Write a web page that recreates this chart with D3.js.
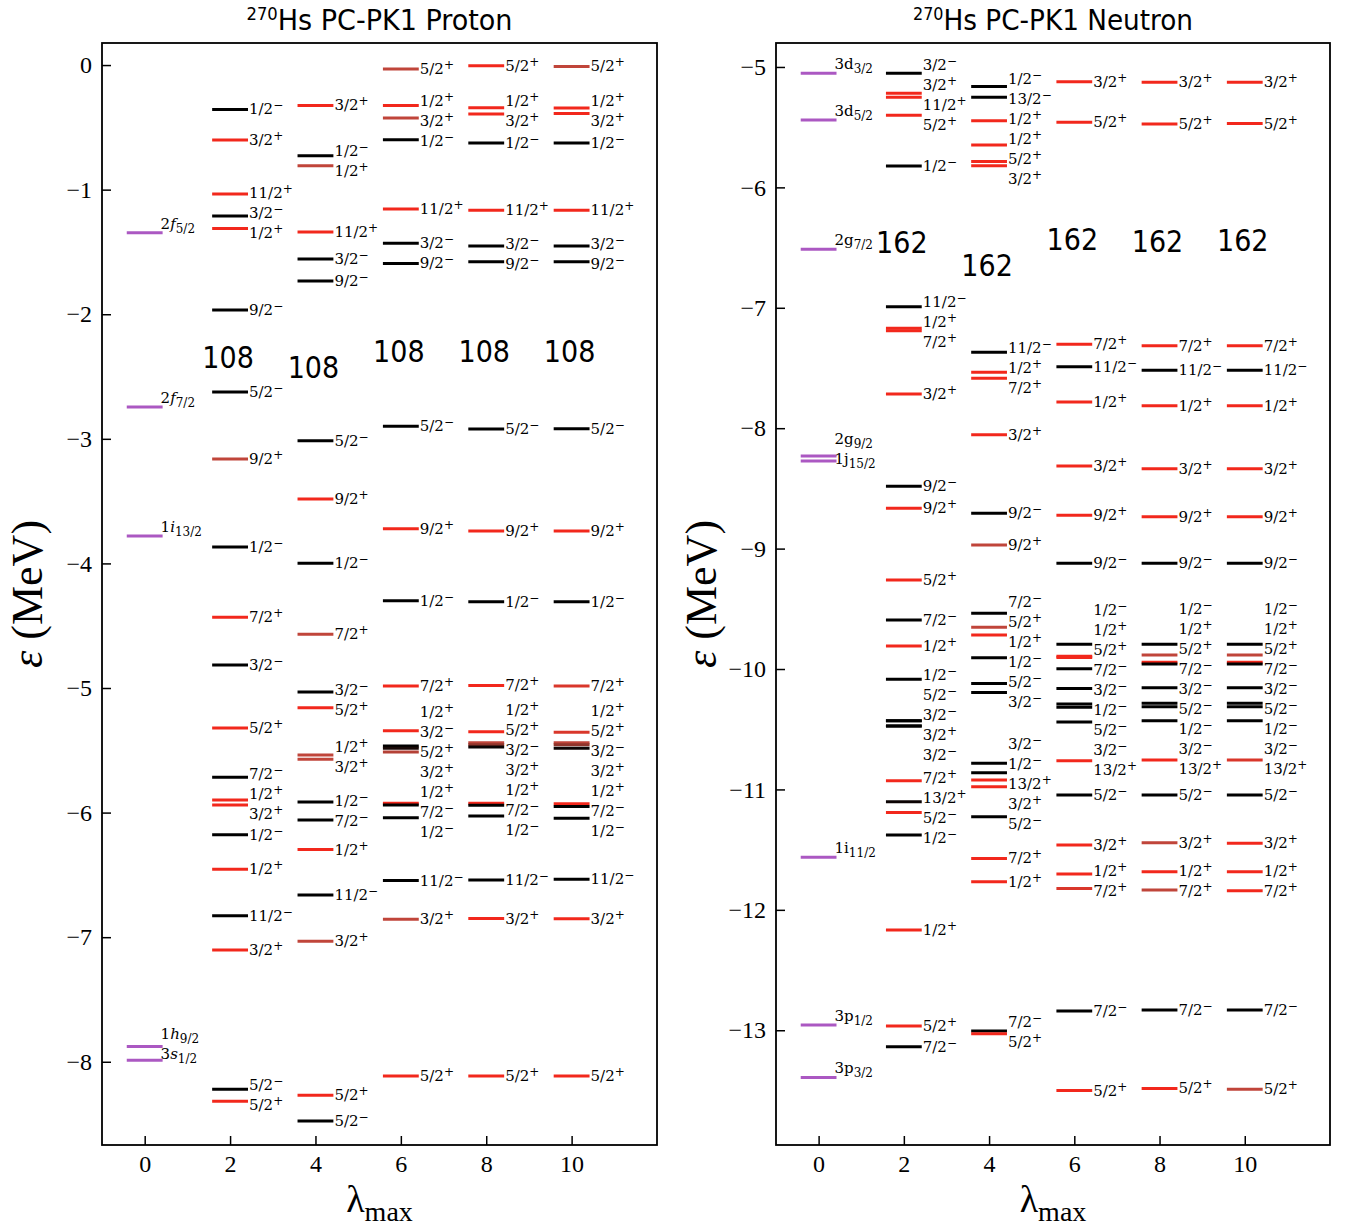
<!doctype html>
<html>
<head>
<meta charset="utf-8">
<title>270Hs PC-PK1 levels</title>
<script src="https://cdn.jsdelivr.net/npm/d3@7"></script>
<style>
  body { margin: 0; background: #fff; }
</style>
</head>
<body>
<script>

    // lambda_max columns
    var lambdaMax = [2, 4, 6, 8, 10];

    // spherical levels (lambda_max = 0): [energy, shell, j]
    var protonShells = [[-1.346, "2f", "5/2"], [-2.745, "2f", "7/2"], [-3.780, "1i", "13/2"], [-7.878, "1h", "9/2"], [-7.988, "3s", "1/2"]];
    var neutronShells = [[-5.053, "3d", "3/2"], [-5.440, "3d", "5/2"], [-6.514, "2g", "7/2"], [-8.231, "2g", "9/2"], [-8.272, "1j", "15/2"], [-11.564, "1i", "11/2"], [-12.957, "3p", "1/2"], [-13.392, "3p", "3/2"]];

    // deformed levels: [energy, K^pi, parity expectation]
    var proton2 = [[-0.356, "1/2-", -1], [-0.602, "3/2+", 1], [-1.035, "11/2+", 1], [-1.212, "3/2-", -1], [-1.311, "1/2+", 1], [-1.966, "9/2-", -1], [-2.624, "5/2-", -1], [-3.162, "9/2+", 0.6], [-3.868, "1/2-", -1], [-4.433, "7/2+", 1], [-4.815, "3/2-", -1], [-5.321, "5/2+", 1], [-5.717, "7/2-", -1], [-5.899, "1/2+", 1], [-5.939, "3/2+", 1], [-6.177, "1/2-", -1], [-6.455, "1/2+", 1], [-6.827, "11/2-", -1], [-7.103, "3/2+", 1], [-8.221, "5/2-", -1], [-8.317, "5/2+", 1]];
    var proton4 = [[-0.324, "3/2+", 1], [-0.728, "1/2-", -1], [-0.808, "1/2+", 0.6], [-1.340, "11/2+", 1], [-1.557, "3/2-", -1], [-1.734, "9/2-", -1], [-3.015, "5/2-", -1], [-3.483, "9/2+", 1], [-3.999, "1/2-", -1], [-4.569, "7/2+", 0.6], [-5.032, "3/2-", -1], [-5.158, "5/2+", 1], [-5.538, "1/2+", 0.6], [-5.572, "3/2+", 0.6], [-5.915, "1/2-", -1], [-6.059, "7/2-", -1], [-6.297, "1/2+", 1], [-6.661, "11/2-", -1], [-7.033, "3/2+", 0.6], [-8.269, "5/2+", 1], [-8.475, "5/2-", -1]];
    var proton6 = [[-0.032, "5/2+", 0.6], [-0.324, "1/2+", 1], [-0.425, "3/2+", 0.6], [-0.599, "1/2-", -1], [-1.156, "11/2+", 1], [-1.431, "3/2-", -1], [-1.592, "9/2-", -1], [-2.900, "5/2-", -1], [-3.721, "9/2+", 1], [-4.299, "1/2-", -1], [-4.984, "7/2+", 1], [-5.343, "1/2+", 1], [-5.466, "3/2-", -1], [-5.484, "5/2+", -0.8], [-5.514, "3/2+", 0.5], [-5.925, "1/2+", 1], [-5.939, "7/2-", -1], [-6.041, "1/2-", -1], [-6.546, "11/2-", -1], [-6.857, "3/2+", 0.6], [-8.114, "5/2+", 1]];
    var proton8 = [[-0.005, "5/2+", 1], [-0.342, "1/2+", 1], [-0.393, "3/2+", 1], [-0.626, "1/2-", -1], [-1.166, "11/2+", 1], [-1.453, "3/2-", -1], [-1.578, "9/2-", -1], [-2.921, "5/2-", -1], [-3.740, "9/2+", 1], [-4.307, "1/2-", -1], [-4.979, "7/2+", 1], [-5.351, "1/2+", 1], [-5.440, "5/2+", 0.6], [-5.455, "3/2-", 0.2], [-5.474, "3/2+", -0.9], [-5.925, "1/2+", 1], [-5.942, "7/2-", -1], [-6.027, "1/2-", -1], [-6.541, "11/2-", -1], [-6.851, "3/2+", 1], [-8.114, "5/2+", 1]];
    var proton10 = [[-0.011, "5/2+", 0.6], [-0.345, "1/2+", 1], [-0.388, "3/2+", 1], [-0.626, "1/2-", -1], [-1.166, "11/2+", 1], [-1.453, "3/2-", -1], [-1.578, "9/2-", -1], [-2.920, "5/2-", -1], [-3.740, "9/2+", 1], [-4.307, "1/2-", -1], [-4.984, "7/2+", 0.8], [-5.356, "1/2+", 0.8], [-5.440, "5/2+", 0.6], [-5.455, "3/2-", 0.2], [-5.484, "3/2+", -0.9], [-5.930, "1/2+", 1], [-5.952, "7/2-", -1], [-6.045, "1/2-", -1], [-6.535, "11/2-", -1], [-6.853, "3/2+", 1], [-8.114, "5/2+", 1]];

    var neutron2 = [[-5.053, "3/2-", -1], [-5.219, "3/2+", 1], [-5.252, "11/2+", 1], [-5.401, "5/2+", 1], [-5.822, "1/2-", -1], [-6.991, "11/2-", -1], [-7.170, "1/2+", 1], [-7.190, "7/2+", 1], [-7.716, "3/2+", 1], [-8.483, "9/2-", -1], [-8.665, "9/2+", 1], [-9.261, "5/2+", 1], [-9.593, "7/2-", -1], [-9.809, "1/2+", 1], [-10.086, "1/2-", -1], [-10.429, "5/2-", -1], [-10.429, "3/2-", -1], [-10.473, "3/2+", -1], [-10.473, "3/2-", -1], [-10.928, "7/2+", 1], [-11.102, "13/2+", -0.9], [-11.192, "5/2-", 1], [-11.379, "1/2-", -1], [-12.168, "1/2+", 1], [-12.965, "5/2+", 1], [-13.137, "7/2-", -1]];
    var neutron4 = [[-5.163, "1/2-", -1], [-5.252, "13/2-", -1], [-5.446, "1/2+", 1], [-5.648, "1/2+", 1], [-5.786, "5/2+", 1], [-5.820, "3/2+", 1], [-7.370, "11/2-", -1], [-7.536, "1/2+", 1], [-7.586, "7/2+", 1], [-8.054, "3/2+", 1], [-8.707, "9/2-", -1], [-8.970, "9/2+", 0.6], [-9.537, "7/2-", -1], [-9.654, "5/2+", 0.6], [-9.718, "1/2+", 1], [-9.906, "1/2-", -1], [-10.120, "5/2-", -1], [-10.194, "3/2-", -1], [-10.783, "3/2-", -1], [-10.861, "1/2-", -1], [-10.922, "13/2+", 1], [-10.978, "3/2+", 1], [-11.227, "5/2-", -1], [-11.573, "7/2+", 1], [-11.767, "1/2+", 1], [-13.007, "7/2-", -1], [-13.029, "5/2+", 1]];
    var neutron6 = [[-5.122, "3/2+", 1], [-5.460, "5/2+", 1], [-7.303, "7/2+", 1], [-7.489, "11/2-", -1], [-7.782, "1/2+", 1], [-8.314, "3/2+", 1], [-8.724, "9/2+", 1], [-9.122, "9/2-", -1], [-9.795, "1/2-", -1], [-9.893, "1/2+", 1], [-9.905, "5/2+", 1], [-9.998, "7/2-", -1], [-10.161, "3/2-", -1], [-10.291, "1/2-", -1], [-10.318, "5/2-", -1], [-10.440, "3/2-", -1], [-10.761, "13/2+", 1], [-11.047, "5/2-", -1], [-11.462, "3/2+", 1], [-11.703, "1/2+", 1], [-11.822, "7/2+", 0.8], [-12.841, "7/2-", -1], [-13.501, "5/2+", 1]];
    var neutron8 = [[-5.127, "3/2+", 1], [-5.473, "5/2+", 1], [-7.315, "7/2+", 1], [-7.519, "11/2-", -1], [-7.813, "1/2+", 1], [-8.336, "3/2+", 1], [-8.735, "9/2+", 1], [-9.122, "9/2-", -1], [-9.795, "1/2-", -1], [-9.884, "1/2+", 0.6], [-9.944, "5/2+", 1], [-9.958, "7/2-", -1], [-10.155, "3/2-", -1], [-10.285, "5/2-", -1], [-10.313, "1/2-", -1], [-10.429, "3/2-", -1], [-10.756, "13/2+", 1], [-11.047, "5/2-", -1], [-11.443, "3/2+", 0.6], [-11.684, "1/2+", 1], [-11.836, "7/2+", 0.6], [-12.832, "7/2-", -1], [-13.483, "5/2+", 1]];
    var neutron10 = [[-5.127, "3/2+", 1], [-5.470, "5/2+", 1], [-7.315, "7/2+", 1], [-7.519, "11/2-", -1], [-7.813, "1/2+", 1], [-8.336, "3/2+", 1], [-8.735, "9/2+", 1], [-9.122, "9/2-", -1], [-9.795, "1/2-", -1], [-9.884, "1/2+", 0.6], [-9.944, "5/2+", 1], [-9.958, "7/2-", -1], [-10.155, "3/2-", -1], [-10.285, "5/2-", -1], [-10.313, "1/2-", -1], [-10.429, "3/2-", -1], [-10.756, "13/2+", 0.8], [-11.047, "5/2-", -1], [-11.448, "3/2+", 1], [-11.684, "1/2+", 1], [-11.841, "7/2+", 1], [-12.832, "7/2-", -1], [-13.490, "5/2+", 0.6]];

    var protonTicks = [0, -1, -2, -3, -4, -5, -6, -7, -8];
    var neutronTicks = [-5, -6, -7, -8, -9, -10, -11, -12, -13];
    var xTicks = [0, 2, 4, 6, 8, 10];

    var svg = d3.select("body").append("svg")
        .attr("width", 1356)
        .attr("height", 1228)
        .style("background", "#fff");

    var parityColor = d3.scaleLinear()
        .domain([-1, 0.6, 1])
        .range(["#000000", "#c0453a", "#f2281c"]);
    var shellColor = "#ab58c2";
    var half = 0.42;
    var labelGap = 20;
    var serif = "'Liberation Serif', 'DejaVu Serif', serif";
    var labelFont = "'DejaVu Serif', serif";
    var sans = "'DejaVu Sans Condensed', 'DejaVu Sans', sans-serif";

    function minusSign(s) { return s.replace("-", "\u2212"); }

    // push overlapping labels apart, keeping groups centred on their levels
    function spread(items, gap) {
        items.sort(function(a, b) { return a.want - b.want; });
        var cl = [];
        items.forEach(function(it) {
            cl.push({list: [it], s: it.want});
            while (cl.length > 1) {
                var b = cl[cl.length - 1], a = cl[cl.length - 2];
                var aStart = a.s / a.list.length, bStart = b.s / b.list.length;
                if (bStart < aStart + a.list.length * gap) {
                    a.s = a.s + b.s - b.list.length * a.list.length * gap;
                    a.list = a.list.concat(b.list);
                    cl.pop();
                } else break;
            }
        });
        cl.forEach(function(c) {
            var st = c.s / c.list.length;
            c.list.forEach(function(it, k) { it.y = st + k * gap; });
        });
    }

    function drawPanel(cfg) {
        var x = d3.scaleLinear().domain([-1, 12]).range([cfg.left, cfg.right]);
        var y = d3.scaleLinear().domain(cfg.yDomain).range([43, 1145]);
        var g = svg.append("g");

        // title
        var t = g.append("text")
            .attr("x", (cfg.left + cfg.right) / 2)
            .attr("y", 30)
            .attr("text-anchor", "middle")
            .attr("font-family", sans)
            .attr("font-size", "28px")
            .attr("textLength", cfg.titleWidth)
            .attr("lengthAdjust", "spacingAndGlyphs");
        t.append("tspan").attr("font-size", "17px").attr("dy", -10).text("270");
        t.append("tspan").attr("dy", 10).text("Hs PC-PK1 " + cfg.name);

        // axes, ticks inside
        var yAxis = d3.axisLeft(y)
            .tickValues(cfg.ticks)
            .tickSizeInner(-9)
            .tickSizeOuter(0)
            .tickPadding(10)
            .tickFormat(function(d) { return minusSign(String(d)); });
        var ya = g.append("g").attr("transform", "translate(" + cfg.left + ",0)").call(yAxis);
        var xAxis = d3.axisBottom(x)
            .tickValues(xTicks)
            .tickSizeInner(-9)
            .tickSizeOuter(0)
            .tickPadding(10);
        var xa = g.append("g").attr("transform", "translate(0,1145)").call(xAxis);
        [ya, xa].forEach(function(a) {
            a.select(".domain").remove();
            a.selectAll(".tick line").attr("stroke", "#000").attr("stroke-width", 1.5);
            a.selectAll(".tick text")
                .attr("font-family", serif)
                .attr("font-size", "24px")
                .attr("fill", "#000");
        });

        g.append("rect")
            .attr("x", cfg.left)
            .attr("y", 43)
            .attr("width", cfg.right - cfg.left)
            .attr("height", 1145 - 43)
            .attr("fill", "none")
            .attr("stroke", "#000")
            .attr("stroke-width", 1.8);

        // axis labels
        var yl = g.append("text")
            .attr("transform", "translate(" + (cfg.left - 60) + ",594) rotate(-90)")
            .attr("text-anchor", "middle")
            .attr("font-family", serif)
            .attr("font-size", "44px");
        yl.append("tspan").attr("font-style", "italic").text("\u03b5");
        yl.append("tspan").text(" (MeV)");

        var xl = g.append("text")
            .attr("x", (cfg.left + cfg.right) / 2)
            .attr("y", 1212)
            .attr("text-anchor", "middle")
            .attr("font-family", serif)
            .attr("font-size", "38px");
        xl.append("tspan").text("\u03bb");
        xl.append("tspan").attr("dy", 9).attr("font-size", "28px").text("max");

        // spherical levels
        g.selectAll(".shell").data(cfg.shells).enter().append("line")
            .attr("x1", x(-half))
            .attr("x2", x(half))
            .attr("y1", function(d) { return y(d[0]); })
            .attr("y2", function(d) { return y(d[0]); })
            .attr("stroke", shellColor)
            .attr("stroke-width", 3);

        var shellLabels = cfg.shells.map(function(d) { return {d: d, want: y(d[0]) - 4}; });
        spread(shellLabels, labelGap);
        shellLabels.forEach(function(it) {
            var st = g.append("text")
                .attr("x", x(half) - 2)
                .attr("y", it.y)
                .attr("font-family", labelFont)
                .attr("font-size", "15px");
            st.append("tspan").text(it.d[1].charAt(0));
            st.append("tspan")
                .attr("font-style", cfg.italicShell ? "italic" : "normal")
                .text(it.d[1].slice(1));
            st.append("tspan").attr("dy", 4).attr("font-size", "12px").text(it.d[2]);
        });

        // deformed levels for each lambda_max
        cfg.cols.forEach(function(col, i) {
            var lm = lambdaMax[i];
            g.selectAll(".lv" + lm).data(col).enter().append("line")
                .attr("x1", x(lm - half))
                .attr("x2", x(lm + half))
                .attr("y1", function(d) { return y(d[0]); })
                .attr("y2", function(d) { return y(d[0]); })
                .attr("stroke", function(d) { return parityColor(d[2]); })
                .attr("stroke-width", 3);

            var labs = col.map(function(d) { return {d: d, want: y(d[0])}; });
            spread(labs, labelGap);
            labs.forEach(function(it) {
                var txt = g.append("text")
                    .attr("x", x(lm + half) + 1)
                    .attr("y", it.y + 5)
                    .attr("font-family", labelFont)
                    .attr("font-size", "15px")
                    .attr("fill", "#000");
                var s = it.d[1];
                txt.append("tspan").text(s.slice(0, -1));
                txt.append("tspan")
                    .attr("dy", -5)
                    .attr("font-size", "12px")
                    .text(minusSign(s.slice(-1)));
            });

            // magic gap label
            var above = d3.min(col.filter(function(d) { return d[0] > cfg.split; }), function(d) { return d[0]; });
            var below = d3.max(col.filter(function(d) { return d[0] < cfg.split; }), function(d) { return d[0]; });
            g.append("text")
                .attr("x", x(lm) - 2)
                .attr("y", y((above + below) / 2) + 6)
                .attr("dy", "0.36em")
                .attr("text-anchor", "middle")
                .attr("font-family", sans)
                .attr("font-size", "30px")
                .text(cfg.magic);
        });
    }

    drawPanel({
        name: "Proton",
        left: 102, right: 657,
        yDomain: [0.177, -8.668],
        ticks: protonTicks,
        shells: protonShells,
        italicShell: true,
        cols: [proton2, proton4, proton6, proton8, proton10],
        magic: "108",
        split: -2.3,
        titleWidth: 266
    });

    drawPanel({
        name: "Neutron",
        left: 776, right: 1330,
        yDomain: [-4.801, -13.953],
        ticks: neutronTicks,
        shells: neutronShells,
        italicShell: false,
        cols: [neutron2, neutron4, neutron6, neutron8, neutron10],
        magic: "162",
        split: -6.5,
        titleWidth: 280
    });

</script>
</body>
</html>
